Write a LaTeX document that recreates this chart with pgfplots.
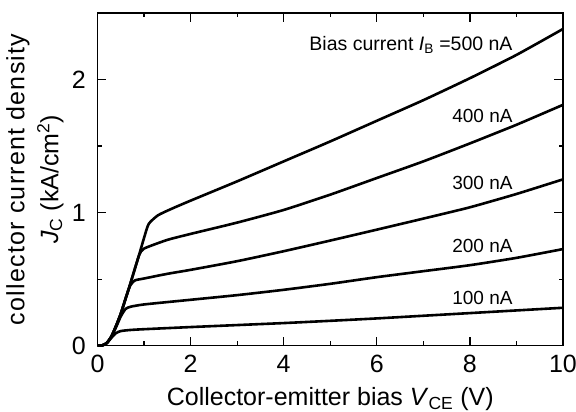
\documentclass[border=0pt]{standalone}
\usepackage{pgfplots}
\pgfplotsset{compat=1.18}
\usepackage{fontspec}
\setmainfont{Liberation Sans}

\begin{document}
\begin{tikzpicture}
\path[use as bounding box] (-97.5pt,-66.3pt) rectangle (478.5pt,345.7pt);
\begin{axis}[
    at={(0pt,0pt)}, anchor=south west,
    scale only axis,
    width=465.5pt, height=332.7pt,
    xmin=0, xmax=10, ymin=0, ymax=2.5,
    xtick={0,2,...,10}, ytick={0,1,2},
    minor xtick={1,3,...,9}, minor ytick={0.5,1.5},
    tick align=inside, tick pos=both,
    major tick length=9pt, minor tick length=4.5pt,
    axis line style={line width=1.5pt},
    every tick/.style={line width=1.2pt, black},
    /pgf/number format/assume math mode=true,
    tick label style={font=\fontsize{25}{28}\selectfont, inner sep=0pt},
    xticklabel style={yshift=-9.5pt},
    yticklabel style={xshift=-11.5pt},
    xlabel={Collector-emitter bias \textit{V}\textsubscript{CE} (V)},
    every axis x label/.style={at={(axis description cs:0.5,0)}, anchor=base, yshift=-60pt,
        font=\fontsize{25}{28}\selectfont},
    ylabel={{\addfontfeature{LetterSpace=5}collector current density}\\\textit{J}\textsubscript{C} (kA/cm\textsuperscript{2})},
    every axis y label/.style={at={(axis description cs:-0.1344,0.5)}, rotate=90, anchor=center,
        align=center, font=\fontsize{25}{34}\selectfont},
    clip=false,
    cycle list={{black, no markers}},
    every axis plot post/.style={black, line width=2.6pt, line join=round, smooth, tension=0.35, mark=none},
]
% 100 nA
\addplot coordinates {(0,0)(0.1,0.002)(0.2,0.02)(0.3,0.06)(0.4,0.095)(0.5,0.11)(0.7,0.118)(1,0.124)(2,0.14)(3,0.155)(4,0.17)(5,0.187)(6,0.205)(7,0.225)(8,0.245)(9,0.265)(10,0.285)};
% 200 nA
\addplot coordinates {(0,0)(0.1,0.002)(0.2,0.02)(0.3,0.07)(0.4,0.14)(0.5,0.22)(0.6,0.275)(0.7,0.292)(1,0.31)(2,0.345)(3,0.38)(4,0.42)(5,0.465)(6,0.515)(7,0.56)(8,0.605)(9,0.66)(10,0.726)};
% 300 nA
\addplot coordinates {(0,0)(0.1,0.002)(0.2,0.02)(0.3,0.07)(0.4,0.15)(0.5,0.24)(0.6,0.35)(0.7,0.45)(0.8,0.49)(1,0.505)(1.5,0.54)(2,0.57)(3,0.635)(4,0.71)(5,0.79)(6,0.872)(7,0.955)(8,1.04)(9,1.14)(10,1.25)};
% 400 nA
\addplot coordinates {(0,0)(0.1,0.002)(0.2,0.02)(0.3,0.07)(0.4,0.15)(0.5,0.24)(0.6,0.35)(0.7,0.46)(0.8,0.575)(0.9,0.685)(1.0,0.73)(1.5,0.795)(2,0.84)(3,0.925)(4,1.02)(5,1.135)(6,1.26)(7,1.385)(8,1.52)(9,1.66)(10,1.81)};
% 500 nA
\addplot coordinates {(0,0)(0.1,0.002)(0.2,0.02)(0.3,0.07)(0.4,0.15)(0.5,0.24)(0.6,0.35)(0.7,0.46)(0.8,0.575)(0.9,0.69)(1.0,0.81)(1.1,0.915)(1.3,0.98)(1.6,1.03)(2,1.09)(3,1.235)(4,1.385)(5,1.535)(6,1.69)(7,1.845)(8,2.01)(9,2.185)(10,2.38)};

\node[anchor=base east, inner sep=0pt, font=\fontsize{19.5}{22}\selectfont] at (axis cs:8.92,2.22) {Bias current \textit{I}\textsubscript{B} =500 nA};
\node[anchor=base east, inner sep=0pt, font=\fontsize{19}{22}\selectfont] at (axis cs:8.92,1.674) {400 nA};
\node[anchor=base east, inner sep=0pt, font=\fontsize{19}{22}\selectfont] at (axis cs:8.92,1.176) {300 nA};
\node[anchor=base east, inner sep=0pt, font=\fontsize{19}{22}\selectfont] at (axis cs:8.92,0.698) {200 nA};
\node[anchor=base east, inner sep=0pt, font=\fontsize{19}{22}\selectfont] at (axis cs:8.92,0.306) {100 nA};
\end{axis}
\end{tikzpicture}
\end{document}
